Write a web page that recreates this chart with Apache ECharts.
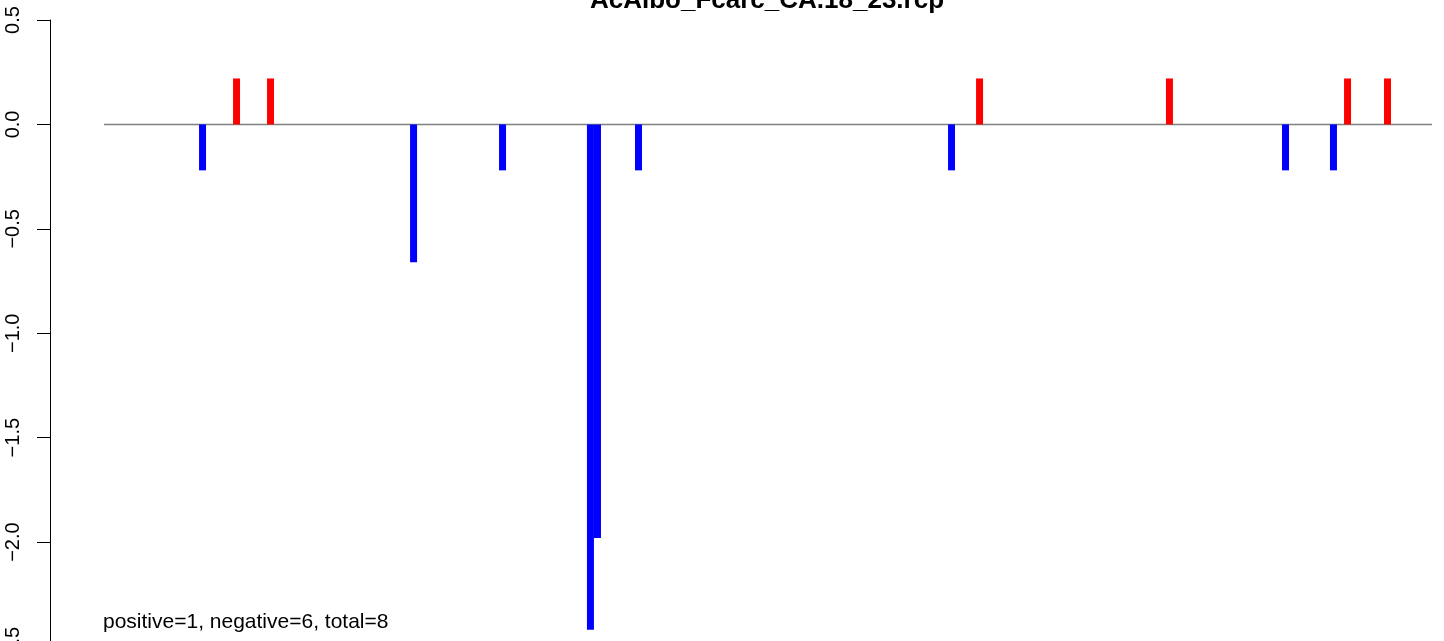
<!DOCTYPE html>
<html>
<head>
<meta charset="utf-8">
<script src="https://cdn.jsdelivr.net/npm/echarts@6/dist/echarts.min.js"></script>
<style>
html,body{margin:0;padding:0;background:#fff;}
#chart{width:1444px;height:641px;}
</style>
</head>
<body>
<div id="chart"></div>
<script>
// Relative positions along the region (0..100) and values
const positions = [7.42, 9.98, 12.54, 23.31, 30.01, 36.63, 37.16, 40.25, 63.82, 65.93, 80.23, 88.97, 92.58, 93.64, 96.65];
const values    = [-0.22, 0.22, 0.22, -0.66, -0.22, -2.42, -1.98, -0.22, -0.22, 0.22, 0.22, -0.22, -0.22, 0.22, 0.22];
const yTicks = [-2.5, -2.0, -1.5, -1.0, -0.5, 0.0, 0.5];
const titleText = 'AcAlbo_Fcarc_CA.18_23.rcp';
const noteText = 'positive=1, negative=6, total=8';

const FONT = '"Liberation Sans", Arial, Helvetica, sans-serif';
const chart = echarts.init(document.getElementById('chart'), null, {renderer: 'canvas'});

const barData = positions.map((p, i) => [p, values[i]]);

chart.setOption({
  animation: false,
  backgroundColor: '#ffffff',
  grid: {left: 104, right: 12, top: 20, height: 626.5, containLabel: false, outerBoundsMode: 'none'},
  xAxis: {
    type: 'value', min: 0, max: 100, show: false
  },
  yAxis: {
    type: 'value',
    min: yTicks[0], max: yTicks[yTicks.length - 1], interval: 0.5,
    offset: 54,
    axisLine: {show: true, onZero: false, lineStyle: {color: '#000', width: 1}},
    axisTick: {show: true, length: 13, lineStyle: {color: '#000', width: 1}},
    splitLine: {show: false},
    axisLabel: {
      rotate: 90, margin: 27, color: '#000',
      fontFamily: FONT, fontSize: 20,
      formatter: v => (v < 0 ? '\u2212' : '') + Math.abs(v).toFixed(1)
    }
  },
  series: [
    {
      type: 'line',
      data: [[0, 0], [100, 0]],
      symbol: 'none',
      lineStyle: {color: '#808080', width: 1.5},
      z: 1, silent: true
    },
    {
      type: 'bar',
      data: barData,
      barWidth: 7,
      itemStyle: {color: p => (p.value[1] >= 0 ? '#ff0000' : '#0000ff')},
      z: 2
    }
  ],
  graphic: [
    {
      type: 'text', x: 767, y: 13.5,
      style: {text: titleText, font: 'bold 26px ' + FONT, fill: '#000',
        textAlign: 'center', align: 'center', textVerticalAlign: 'bottom', verticalAlign: 'bottom'}
    },
    {
      type: 'text', x: 103, y: 633,
      style: {text: noteText, font: '21px ' + FONT, fill: '#000',
        textAlign: 'left', align: 'left', textVerticalAlign: 'bottom', verticalAlign: 'bottom'}
    }
  ]
});
</script>
</body>
</html>
